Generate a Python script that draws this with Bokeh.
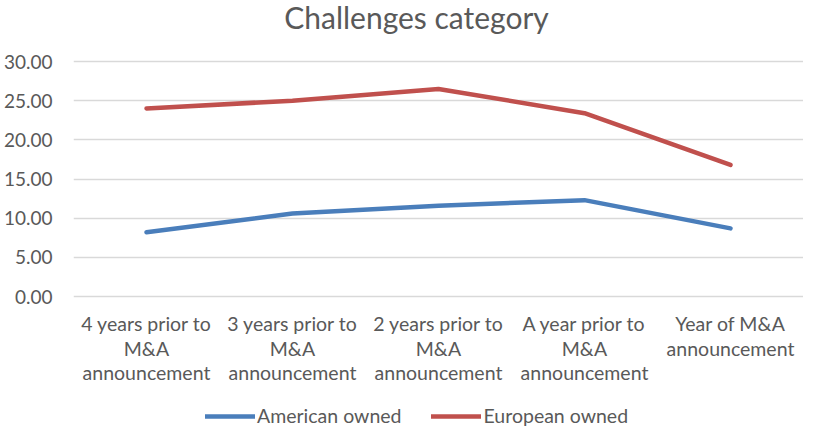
from bokeh.plotting import figure
from bokeh.models import Range1d, FixedTicker, NumeralTickFormatter, Legend, LegendItem, Label
from bokeh.embed import file_html
from bokeh.resources import INLINE

categories = ["4 years prior to\nM&A\nannouncement",
              "3 years prior to\nM&A\nannouncement",
              "2 years prior to\nM&A\nannouncement",
              "A year prior to\nM&A\nannouncement",
              "Year of M&A\nannouncement"]
american = [8.2, 10.6, 11.6, 12.3, 8.7]
european = [24.0, 25.0, 26.5, 23.4, 16.8]
y_ticks = [0, 5, 10, 15, 20, 25, 30]
title_text = "Challenges category"

FONT = "Lato"
TXT = "#595959"

# layout constants (pixels inside the figure)
FIG_W, FIG_H = 803, 427
LEFT = 72
TOP_PX, ZERO_PX = 61, 296          # pixel rows of the 30 and 0 gridlines
YMAX = 30
ppu = (ZERO_PX - TOP_PX) / YMAX
y_hi = YMAX + TOP_PX / ppu
y_lo = -(FIG_H - ZERO_PX) / ppu
n = len(categories)
frame_w = FIG_W - LEFT
label_y = -15.5 / ppu
title_x = -0.5 + (415.5 - LEFT) / frame_w * n
title_y = YMAX + (TOP_PX - 16) / ppu

x = list(range(n))

p = figure(width=FIG_W, height=FIG_H, output_backend="svg", toolbar_location=None,
           title=None, x_axis_location=None,
           x_range=Range1d(-0.5, n - 0.5), y_range=Range1d(y_lo, y_hi),
           min_border_left=LEFT, min_border_right=0, min_border_top=0, min_border_bottom=0)
p.outline_line_color = None
p.background_fill_color = "white"
p.border_fill_color = "white"

r1 = p.line(x, american, line_color="#4A7EBB", line_width=4.5, line_cap="round", line_join="round")
r2 = p.line(x, european, line_color="#C0504D", line_width=4.5, line_cap="round", line_join="round")

for g in p.xgrid:
    g.visible = False
p.ygrid.grid_line_color = "#D9D9D9"
p.ygrid.grid_line_width = 1.5

ya = p.yaxis[0]
ya.ticker = FixedTicker(ticks=y_ticks)
ya.formatter = NumeralTickFormatter(format="0.00")
ya.axis_line_color = None
ya.major_tick_line_color = None
ya.minor_tick_line_color = None
ya.major_label_text_font = FONT
ya.major_label_text_font_size = "19px"
ya.major_label_text_color = TXT
ya.major_label_standoff = 15

# category labels under the 0 line
p.text(x=x, y=[label_y] * n, text=categories, text_align="center", text_baseline="top",
       text_font={"value": FONT}, text_font_size="19.5px", text_color=TXT,
       text_line_height=1.07)

# title
p.add_layout(Label(x=title_x, y=title_y, text=title_text, text_align="center",
                   text_baseline="middle", text_font=FONT, text_font_size="30px",
                   text_color=TXT))

legend = Legend(items=[LegendItem(label="American owned", renderers=[r1]),
                       LegendItem(label="European owned", renderers=[r2])],
                orientation="horizontal", location=(132, 0),
                label_text_font=FONT, label_text_font_size="19.5px", label_text_color=TXT,
                glyph_width=50, glyph_height=16, label_standoff=2, spacing=30,
                border_line_color=None, padding=0, margin=0, background_fill_alpha=0)
p.add_layout(legend, "center")

open("out.html", "w").write(file_html(p, INLINE))
